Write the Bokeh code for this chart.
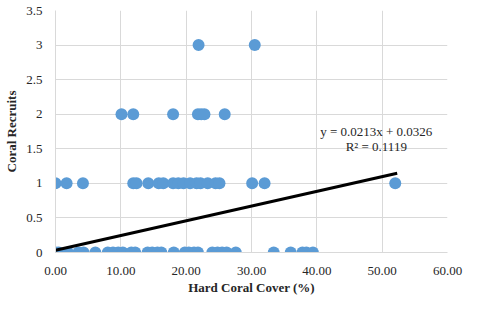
from bokeh.plotting import figure
from bokeh.models import FixedTicker, NumeralTickFormatter, Label, ColumnDataSource
from bokeh.embed import file_html
from bokeh.resources import INLINE

# Data
cover_r0 = [0.0, 0.5, 1.9, 3.5, 4.3, 6.1, 8.0, 8.8, 9.6, 10.3, 11.6, 12.2, 14.1, 14.8,
            15.6, 16.2, 18.1, 19.8, 20.4, 21.2, 21.8, 24.0, 24.8, 25.5, 26.2, 27.6,
            33.4, 36.0, 37.8, 38.4, 39.4]
cover_r1 = [0.0, 1.7, 4.2, 11.9, 12.4, 14.2, 15.8, 16.5, 18.0, 18.8, 19.6, 20.6, 21.6,
            22.2, 23.3, 24.5, 25.1, 30.1, 32.0, 52.0]
cover_r2 = [10.1, 11.9, 18.0, 21.8, 22.3, 22.8, 25.9]
cover_r3 = [21.9, 30.5]

cover = cover_r0 + cover_r1 + cover_r2 + cover_r3
recruits = [0] * len(cover_r0) + [1] * len(cover_r1) + [2] * len(cover_r2) + [3] * len(cover_r3)

slope = 0.0213
intercept = 0.0326
r2 = 0.1119
trend_x = [0.0, 52.3]
trend_y = [slope * v + intercept for v in trend_x]

x_ticks = [0, 10, 20, 30, 40, 50, 60]
y_ticks = [0, 0.5, 1, 1.5, 2, 2.5, 3, 3.5]
x_title = "Hard Coral Cover (%)"
y_title = "Coral Recruits"

FONT = "Liberation Serif"
GRID = "#d9d9d9"

p = figure(width=464, height=297, output_backend="svg", toolbar_location=None,
           x_range=(0, 60), y_range=(0, 3.5),
           min_border_left=55, min_border_right=17, min_border_top=10, min_border_bottom=44)
p.outline_line_color = None
p.background_fill_color = "white"

p.xaxis.ticker = FixedTicker(ticks=x_ticks)
p.yaxis.ticker = FixedTicker(ticks=y_ticks)
p.xaxis.formatter = NumeralTickFormatter(format="0.00")
p.yaxis.formatter = NumeralTickFormatter(format="0.[0]")

for ax in (p.xaxis[0], p.yaxis[0]):
    ax.major_tick_line_color = None
    ax.minor_tick_line_color = None
    ax.axis_line_color = GRID
    ax.major_label_text_font = FONT
    ax.major_label_text_font_size = "13px"
    ax.major_label_text_color = "#262626"
    ax.axis_label_text_font = FONT
    ax.axis_label_text_font_size = "13px"
    ax.axis_label_text_font_style = "bold"
    ax.axis_label_text_color = "#262626"

p.xaxis.axis_label = x_title
p.yaxis.axis_label = y_title
p.xaxis.major_label_standoff = 8
p.yaxis.major_label_standoff = 7
p.xaxis.axis_label_standoff = 2
p.yaxis.axis_label_standoff = 4

p.xgrid.grid_line_color = GRID
p.ygrid.grid_line_color = GRID

src = ColumnDataSource(dict(x=cover, y=recruits))
p.scatter("x", "y", source=src, size=12, fill_color="#5B9BD5", line_color=None)
p.line(trend_x, trend_y, line_color="black", line_width=3)

eq1 = Label(x=49.1, y=1.75, text=f"y = {slope}x + {intercept}", text_font=FONT,
            text_font_size="13px", text_align="center", text_baseline="middle",
            text_color="#262626")
eq2 = Label(x=49.1, y=1.54, text=f"R² = {r2}", text_font=FONT,
            text_font_size="13px", text_align="center", text_baseline="middle",
            text_color="#262626")
p.add_layout(eq1)
p.add_layout(eq2)

open("out.html", "w").write(file_html(p, INLINE))
